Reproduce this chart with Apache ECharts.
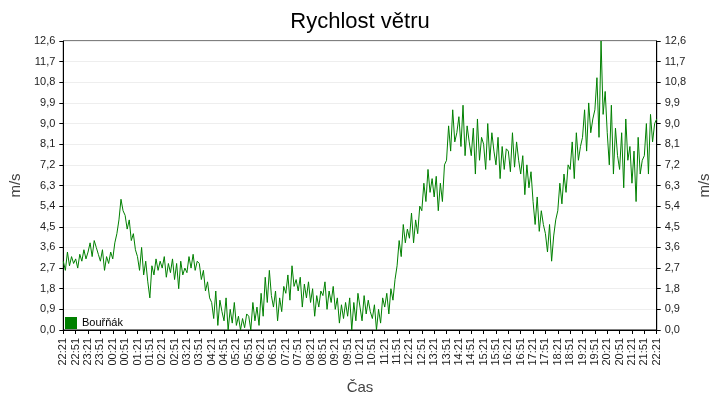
<!DOCTYPE html>
<html><head><meta charset="utf-8">
<script src="https://cdn.jsdelivr.net/npm/echarts@6/dist/echarts.min.js"></script>
<style>html,body{margin:0;background:#fff}#c{width:720px;height:400px}</style></head>
<body><div id="c"></div>
<script>
const tickLabels=["22:21","22:51","23:21","23:51","00:21","00:51","01:21","01:51","02:21","02:51","03:21","03:51","04:21","04:51","05:21","05:51","06:21","06:51","07:21","07:51","08:21","08:51","09:21","09:51","10:21","10:51","11:21","11:51","12:21","12:51","13:21","13:51","14:21","14:51","15:21","15:51","16:21","16:51","17:21","17:51","18:21","18:51","19:21","19:51","20:21","20:51","21:21","21:51","22:21"];
// wind speed (m/s), one value every 5 minutes starting 22:21
const speeds=[
3.0,2.6,3.4,2.8,3.2,2.9, 3.1,2.7,3.3,3.0,3.5,3.1, 3.4,3.8,3.2,3.9,3.6,3.3,
3.0,3.5,2.6,3.2,2.9,3.4, 3.1,3.8,4.2,4.8,5.7,5.2, 5.0,4.4,4.8,3.9,4.2,3.5,
3.2,2.6,3.6,2.4,3.0,2.1, 1.4,2.8,2.4,3.1,2.6,3.0, 2.7,3.2,2.3,2.9,2.5,3.1,
2.2,2.9,1.8,3.0,2.4,2.7, 2.5,3.2,2.7,3.3,2.6,3.0, 2.9,2.2,2.6,1.7,2.1,1.4,
1.2,0.5,1.7,0.2,1.3,0.8, 0.4,1.4,0.0,0.9,0.3,1.2, 0.2,0.6,0.0,0.5,0.1,0.7,
0.6,0.0,1.2,0.4,1.0,0.2, 1.6,0.6,2.3,1.2,2.6,1.5, 1.0,1.7,0.4,1.4,0.8,1.9,
1.6,2.4,1.3,2.8,1.9,2.2, 1.7,2.3,1.0,2.0,1.4,2.1, 1.2,1.8,0.6,1.5,1.0,1.7,
1.5,2.1,0.9,1.7,1.2,1.9, 0.9,1.4,0.3,1.1,0.5,1.2, 0.6,1.4,0.0,1.2,0.4,1.6,
1.0,0.4,1.5,0.7,1.3,0.8, 0.5,1.1,0.0,0.9,0.3,1.4, 1.0,1.6,0.7,1.8,1.3,2.2,
2.8,3.9,3.2,4.6,3.8,4.4, 4.0,5.1,3.8,4.8,4.2,5.4, 5.2,6.4,5.6,7.0,6.0,6.6,
5.8,6.7,5.2,6.4,5.6,7.2, 7.4,8.9,7.8,9.6,8.2,8.6, 9.3,8.0,9.8,7.6,8.9,8.2,
7.6,8.8,6.8,9.2,7.4,8.4, 8.1,7.0,9.0,7.4,8.6,7.8, 7.2,8.4,6.6,8.0,7.0,7.9,
7.8,6.9,8.6,7.1,8.2,7.4, 6.8,7.6,5.9,7.2,6.2,6.9, 5.6,4.6,5.8,4.3,5.2,4.6,
4.2,3.4,4.6,3.0,4.1,4.8, 5.2,6.4,5.5,6.8,6.0,7.2, 7.0,8.2,6.6,8.6,7.4,8.0,
8.4,9.6,7.8,9.9,8.6,9.2, 9.6,11.0,8.4,12.6,9.4,10.4, 8.6,7.2,9.8,6.8,8.8,7.6,
7.0,8.6,6.2,9.2,7.4,8.0, 6.4,7.8,5.6,8.4,6.8,7.4, 7.6,9.0,6.8,9.4,8.2,9.0,9.2];
const times=speeds.map((v,i)=>[i*5,v]);
const chart=echarts.init(document.getElementById('c'));
const yAx=pos=>({type:'value',position:pos,min:0,max:12.6,interval:0.9,name:'m/s',nameLocation:'middle',nameGap:38,
 nameTextStyle:{fontSize:15,color:'#444',fontFamily:'Liberation Sans'},
 axisLine:{show:true,lineStyle:{color:'#000'}},axisTick:{show:true,length:4},
 axisLabel:{fontSize:11,color:'#222',fontFamily:'Liberation Sans',formatter:v=>v.toFixed(1).replace('.',',')},
 splitLine:{show:pos==='left',lineStyle:{color:'#eee'}}});
chart.setOption({
 animation:false,
 title:{text:'Rychlost větru',left:'center',top:6,textStyle:{fontSize:22,fontWeight:'normal',color:'#000',fontFamily:'Liberation Sans'}},
 grid:{left:55,right:55,top:41,bottom:68,show:true,borderColor:'#000',borderWidth:1},
 legend:{data:['Bouřňák'],left:60,top:312,itemWidth:12,itemHeight:12,icon:'rect',textStyle:{fontSize:11,color:'#000',fontFamily:'Liberation Sans'}},
 xAxis:{type:'value',min:0,max:1440,interval:30,name:'Čas',nameLocation:'middle',nameGap:50,
  nameTextStyle:{fontSize:15,color:'#444',fontFamily:'Liberation Sans'},
  axisLine:{lineStyle:{color:'#000'}},axisTick:{length:4},splitLine:{show:false},
  axisLabel:{rotate:90,fontSize:11,color:'#222',fontFamily:'Liberation Sans',formatter:v=>tickLabels[v/30]}},
 yAxis:[yAx('left'),yAx('right')],
 series:[{name:'Bouřňák',type:'line',data:times,showSymbol:false,lineStyle:{color:'#008000',width:1},itemStyle:{color:'#008000'}}]
});
</script></body></html>
